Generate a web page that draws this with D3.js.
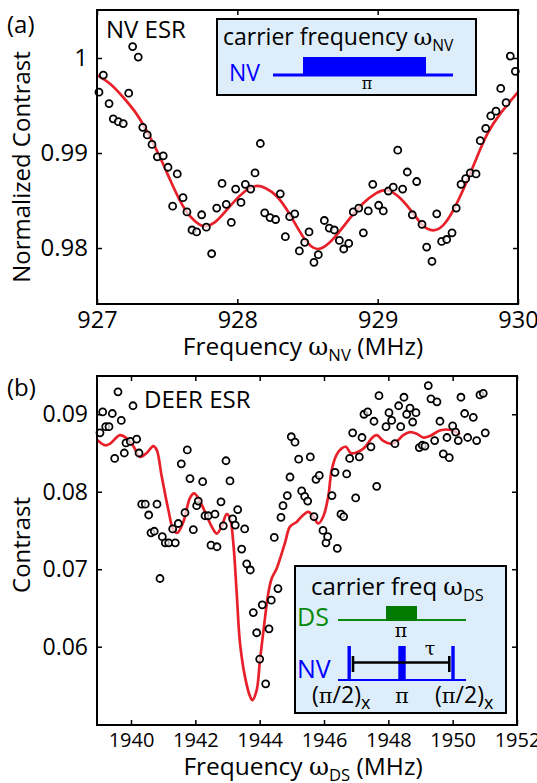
<!DOCTYPE html>
<html>
<head>
<meta charset="utf-8">
<script src="https://cdn.jsdelivr.net/npm/d3@7"></script>
<style>
  body { margin: 0; background: #fff; }
  text { font-family: "Open Sans", sans-serif; fill: #000; }
</style>
</head>
<body>
<div id="chart"></div>
<script>
// (a) NV ESR data
const nvFreq = [927.014, 927.045, 927.086, 927.116, 927.152, 927.187, 927.226, 927.254, 927.294, 927.326,
  927.358, 927.392, 927.430, 927.472, 927.506, 927.539, 927.572, 927.613, 927.641, 927.677,
  927.710, 927.746, 927.779, 927.817, 927.853, 927.891, 927.921, 927.957, 927.988, 928.026,
  928.057, 928.095, 928.126, 928.164, 928.195, 928.233, 928.273, 928.306, 928.342, 928.373,
  928.409, 928.442, 928.480, 928.511, 928.546, 928.577, 928.620, 928.655, 928.691, 928.727,
  928.758, 928.794, 928.826, 928.865, 928.898, 928.933, 928.965, 929.007, 929.040, 929.076,
  929.111, 929.143, 929.178, 929.211, 929.247, 929.278, 929.316, 929.349, 929.387, 929.421,
  929.456, 929.492, 929.530, 929.560, 929.594, 929.627, 929.660, 929.701, 929.731, 929.770,
  929.806, 929.843, 929.877, 929.915, 929.945, 929.981];
const nvContrast = [0.9964, 0.9982, 0.9952, 0.9936, 0.9933, 0.9931, 0.9963, 1.0012, 1.0001, 0.9927,
  0.9919, 0.9909, 0.9896, 0.9897, 0.9885, 0.9844, 0.9878, 0.9853, 0.9838, 0.9819,
  0.9817, 0.9835, 0.9822, 0.9794, 0.9842, 0.9868, 0.9846, 0.9827, 0.9862, 0.9848,
  0.9867, 0.9862, 0.9879, 0.9910, 0.9837, 0.9832, 0.9830, 0.9857, 0.9812, 0.9833,
  0.9836, 0.9797, 0.9806, 0.9817, 0.9785, 0.9793, 0.9829, 0.9821, 0.9819, 0.9808,
  0.9799, 0.9805, 0.9838, 0.9842, 0.9816, 0.9839, 0.9867, 0.9845, 0.9839, 0.9860,
  0.9864, 0.9903, 0.9862, 0.9880, 0.9835, 0.9870, 0.9825, 0.9801, 0.9786, 0.9836,
  0.9807, 0.9809, 0.9816, 0.9842, 0.9867, 0.9873, 0.9879, 0.9878, 0.9913, 0.9926,
  0.9939, 0.9944, 0.9968, 0.9953, 1.0002, 0.9986];

// (a) fit curve
const nvFitFreq = [927.000, 927.093, 927.185, 927.285, 927.378, 927.449, 927.520, 927.591, 927.663, 927.734,
  927.770, 927.841, 927.912, 928.019, 928.090, 928.140, 928.197, 928.283, 928.375, 928.468,
  928.568, 928.682, 928.803, 928.896, 928.995, 929.067, 929.159, 929.252, 929.323, 929.394,
  929.466, 929.537, 929.637, 929.708, 929.779, 929.872, 930.000];
const nvFitContrast = [0.9982, 0.9974, 0.9959, 0.9942, 0.9917, 0.9896, 0.9872, 0.9849, 0.9832, 0.9824,
  0.9822, 0.9826, 0.9838, 0.9856, 0.9864, 0.9866, 0.9864, 0.9856, 0.9836, 0.9810,
  0.9794, 0.9808, 0.9832, 0.9848, 0.9859, 0.9863, 0.9854, 0.9837, 0.9822, 0.9817,
  0.9822, 0.9838, 0.9870, 0.9896, 0.9921, 0.9942, 0.9964];

// (b) DEER ESR data
const deerFreq = [1939.036, 1939.120, 1939.214, 1939.316, 1939.419, 1939.493, 1939.596, 1939.698, 1939.792, 1939.845,
  1939.978, 1940.062, 1940.177, 1940.249, 1940.333, 1940.445, 1940.550, 1940.622, 1940.724, 1940.808,
  1940.901, 1940.973, 1941.066, 1941.172, 1941.296, 1941.377, 1941.470, 1941.564, 1941.679, 1941.750,
  1941.834, 1941.937, 1942.042, 1942.092, 1942.229, 1942.300, 1942.403, 1942.487, 1942.611, 1942.673,
  1942.798, 1942.869, 1942.953, 1943.077, 1943.161, 1943.242, 1943.317, 1943.441, 1943.534, 1943.597,
  1943.708, 1943.802, 1943.907, 1944.001, 1944.081, 1944.187, 1944.290, 1944.361, 1944.454, 1944.569,
  1944.663, 1944.725, 1944.859, 1944.943, 1944.983, 1945.098, 1945.213, 1945.306, 1945.400, 1945.493,
  1945.574, 1945.689, 1945.751, 1945.853, 1945.968, 1946.062, 1946.114, 1946.248, 1946.341, 1946.413,
  1946.528, 1946.612, 1946.705, 1946.798, 1946.891, 1946.985, 1947.097, 1947.181, 1947.243, 1947.358,
  1947.460, 1947.554, 1947.638, 1947.709, 1947.927, 1948.020, 1948.104, 1948.206, 1948.321, 1948.384,
  1948.486, 1948.570, 1948.673, 1948.757, 1948.859, 1948.962, 1949.055, 1949.139, 1949.242, 1949.325,
  1949.440, 1949.512, 1949.605, 1949.708, 1949.823, 1949.894, 1950.000, 1950.093, 1950.174, 1950.258,
  1950.373, 1950.467, 1950.641, 1950.746, 1950.849, 1950.951, 1951.013];
const deerContrast = [0.0876, 0.0903, 0.0884, 0.0884, 0.0901, 0.0843, 0.0929, 0.0892, 0.0850, 0.0863,
  0.0865, 0.0911, 0.0868, 0.0850, 0.0784, 0.0784, 0.0770, 0.0747, 0.0749, 0.0784,
  0.0688, 0.0742, 0.0734, 0.0734, 0.0752, 0.0734, 0.0759, 0.0836, 0.0773, 0.0854,
  0.0817, 0.0751, 0.0782, 0.0788, 0.0813, 0.0769, 0.0769, 0.0731, 0.0771, 0.0729,
  0.0787, 0.0756, 0.0840, 0.0814, 0.0765, 0.0757, 0.0777, 0.0726, 0.0752, 0.0707,
  0.0699, 0.0644, 0.0618, 0.0584, 0.0654, 0.0552, 0.0623, 0.0660, 0.0741, 0.0675,
  0.0767, 0.0782, 0.0795, 0.0819, 0.0871, 0.0864, 0.0842, 0.0801, 0.0794, 0.0788,
  0.0845, 0.0768, 0.0816, 0.0821, 0.0750, 0.0734, 0.0742, 0.0795, 0.0825, 0.0727,
  0.0771, 0.0768, 0.0823, 0.0843, 0.0876, 0.0792, 0.0845, 0.0870, 0.0900, 0.0903,
  0.0858, 0.0891, 0.0807, 0.0924, 0.0884, 0.0902, 0.0892, 0.0862, 0.0911, 0.0884,
  0.0922, 0.0900, 0.0908, 0.0890, 0.0902, 0.0857, 0.0860, 0.0859, 0.0937, 0.0920,
  0.0866, 0.0916, 0.0891, 0.0849, 0.0870, 0.0844, 0.0885, 0.0877, 0.0866, 0.0922,
  0.0901, 0.0870, 0.0896, 0.0866, 0.0925, 0.0927, 0.0876];

// (b) fit curve
const deerFitFreq = [1938.943, 1939.192, 1939.347, 1939.658, 1939.866, 1940.071, 1940.280, 1940.488, 1940.693, 1940.799,
  1940.954, 1941.159, 1941.315, 1941.439, 1941.626, 1941.834, 1941.958, 1942.092, 1942.300, 1942.509,
  1942.664, 1942.819, 1942.975, 1943.077, 1943.180, 1943.286, 1943.388, 1943.544, 1943.699, 1943.771,
  1943.907, 1944.010, 1944.134, 1944.268, 1944.374, 1944.529, 1944.787, 1944.943, 1945.151, 1945.306,
  1945.511, 1945.667, 1945.822, 1945.978, 1946.133, 1946.239, 1946.394, 1946.550, 1946.683, 1946.829,
  1946.963, 1947.171, 1947.327, 1947.482, 1947.638, 1947.833, 1948.082, 1948.259, 1948.464, 1948.673,
  1948.881, 1949.086, 1949.294, 1949.605, 1949.916, 1950.227];
const deerFitContrast = [0.0867, 0.0860, 0.0862, 0.0873, 0.0869, 0.0859, 0.0845, 0.0850, 0.0859, 0.0854,
  0.0820, 0.0777, 0.0751, 0.0747, 0.0761, 0.0792, 0.0798, 0.0792, 0.0774, 0.0755,
  0.0746, 0.0755, 0.0771, 0.0766, 0.0734, 0.0669, 0.0605, 0.0561, 0.0536, 0.0531,
  0.0544, 0.0583, 0.0626, 0.0669, 0.0688, 0.0701, 0.0734, 0.0755, 0.0761, 0.0768,
  0.0774, 0.0768, 0.0759, 0.0768, 0.0794, 0.0828, 0.0848, 0.0856, 0.0858, 0.0850,
  0.0850, 0.0854, 0.0860, 0.0869, 0.0873, 0.0866, 0.0862, 0.0865, 0.0873, 0.0877,
  0.0875, 0.0870, 0.0872, 0.0879, 0.0880, 0.0874];

// tick values
const nvFreqTicks = [927, 928, 929, 930];
const nvContrastTicks = [0.98, 0.99, 1];
const deerFreqTicks = [1940, 1942, 1944, 1946, 1948, 1950, 1952];
const deerContrastTicks = [0.06, 0.07, 0.08, 0.09];

const width = 537, height = 783;
const red = "#e8202a", blue = "#0000ff", green = "#0a8a0a", boxFill = "#ddeefa";
const greek = '"DejaVu Serif", serif';

const svg = d3.select("#chart").append("svg")
  .attr("width", width)
  .attr("height", height)
  .style("display", "block");

// scales
const xA = d3.scaleLinear().domain([927, 930]).range([97, 518]);
const yA = d3.scaleLinear().domain([0.97411, 1.00505]).range([304, 10]);
const xB = d3.scaleLinear().domain([1938.943, 1952]).range([97, 517]);
const yB = d3.scaleLinear().domain([0.04989, 0.09494]).range([725, 376]);

// frame + mirrored inward ticks + labels
function drawAxes(x, y, xTicks, yTicks, yFmt, xFont, yFont, xPad) {
  const [x0, x1] = x.range();
  const [y1, y0] = y.range();

  const bottom = svg.append("g").attr("transform", `translate(0,${y1})`)
    .call(d3.axisBottom(x).tickValues(xTicks).tickSize(-5).tickPadding(xPad).tickFormat(d3.format("d")));
  bottom.selectAll("text").style("font-size", xFont + "px");

  const left = svg.append("g").attr("transform", `translate(${x0},0)`)
    .call(d3.axisLeft(y).tickValues(yTicks).tickSize(-5).tickPadding(9).tickFormat(yFmt));
  left.selectAll("text").style("font-size", yFont + "px");

  svg.append("g").attr("transform", `translate(0,${y0})`)
    .call(d3.axisTop(x).tickValues(xTicks).tickSize(-5).tickFormat(""));
  svg.append("g").attr("transform", `translate(${x1},0)`)
    .call(d3.axisRight(y).tickValues(yTicks).tickSize(-5).tickFormat(""));

  svg.selectAll(".domain").remove();
  svg.selectAll(".tick line").attr("stroke", "#000").attr("stroke-width", 1.5);
  svg.selectAll(".tick text").attr("fill", "#000").style("font-family", '"Open Sans", sans-serif');

  svg.append("rect")
    .attr("x", x0).attr("y", y0)
    .attr("width", x1 - x0).attr("height", y1 - y0)
    .attr("fill", "none").attr("stroke", "#000").attr("stroke-width", 2);
}

function drawSeries(x, y, fx, fy, px, py, curve) {
  const fit = fx.map((d, i) => [d, fy[i]]);
  svg.append("path")
    .datum(fit)
    .attr("fill", "none")
    .attr("stroke", red)
    .attr("stroke-width", 2.7)
    .attr("d", d3.line().x(d => x(d[0])).y(d => y(d[1])).curve(curve));

  svg.append("g").selectAll("circle")
    .data(px.map((d, i) => [d, py[i]]))
    .enter()
    .append("circle")
    .attr("cx", d => x(d[0]))
    .attr("cy", d => y(d[1]))
    .attr("r", 3.5)
    .attr("fill", "#fff")
    .attr("fill-opacity", 0.7)
    .attr("stroke", "#000")
    .attr("stroke-width", 1.8);
}

// label with omega + subscript
function omegaLabel(g, x, y, size, before, sub, after, anchor) {
  const t = g.append("text").attr("x", x).attr("y", y)
    .attr("text-anchor", anchor || "start").style("font-size", size + "px");
  t.append("tspan").text(before);
  t.append("tspan").style("font-family", greek).style("font-size", size + "px").text("ω");
  t.append("tspan").attr("dy", size * 0.24).style("font-size", (size * 0.68) + "px").text(sub);
  if (after) t.append("tspan").attr("dy", -size * 0.24).text(after);
  return t;
}

// ---------- panel (a)
drawSeries(xA, yA, nvFitFreq, nvFitContrast, nvFreq, nvContrast, d3.curveBasis);
drawAxes(xA, yA, nvFreqTicks, nvContrastTicks, d => String(+d.toFixed(2)), 23.5, 24, 7);

svg.append("text").attr("x", 7).attr("y", 33).style("font-size", "24px").text("(a)");
svg.append("text").attr("x", 106).attr("y", 38).style("font-size", "24px").text("NV ESR");
svg.append("text")
  .attr("transform", "translate(30,167) rotate(-90)")
  .attr("text-anchor", "middle")
  .style("font-size", "24px")
  .text("Normalized Contrast");
omegaLabel(svg, 303, 355, 24.5, "Frequency ", "NV", " (MHz)", "middle");

// inset (a): NV pulse
const insA = svg.append("g");
insA.append("rect").attr("x", 217).attr("y", 19).attr("width", 259).attr("height", 76)
  .attr("fill", boxFill).attr("stroke", "#000").attr("stroke-width", 2);
omegaLabel(insA, 223, 45, 23, "carrier frequency ", "NV");
insA.append("text").attr("x", 229).attr("y", 81).style("font-size", "23px").style("fill", blue).text("NV");
insA.append("line").attr("x1", 273).attr("x2", 453).attr("y1", 75).attr("y2", 75)
  .attr("stroke", blue).attr("stroke-width", 3.2);
insA.append("rect").attr("x", 303).attr("y", 57).attr("width", 123).attr("height", 19).attr("fill", blue);
insA.append("text").attr("x", 367).attr("y", 89).attr("text-anchor", "middle")
  .style("font-family", greek).style("font-size", "16px").text("π");

// ---------- panel (b)
drawSeries(xB, yB, deerFitFreq, deerFitContrast, deerFreq, deerContrast, d3.curveCatmullRom.alpha(0.5));
drawAxes(xB, yB, deerFreqTicks, deerContrastTicks, d3.format(".2f"), 20, 23, 8);

svg.append("text").attr("x", 7).attr("y", 396).style("font-size", "24px").text("(b)");
svg.append("text").attr("x", 144).attr("y", 408).style("font-size", "24px").text("DEER ESR");
svg.append("text")
  .attr("transform", "translate(30,545) rotate(-90)")
  .attr("text-anchor", "middle")
  .style("font-size", "24px")
  .text("Contrast");
omegaLabel(svg, 303, 775, 24.5, "Frequency ", "DS", " (MHz)", "middle");

// inset (b): DEER pulse sequence
const insB = svg.append("g");
insB.append("rect").attr("x", 295).attr("y", 566).attr("width", 211).attr("height", 147)
  .attr("fill", boxFill).attr("stroke", "#000").attr("stroke-width", 2);
omegaLabel(insB, 311, 595, 24, "carrier freq ", "DS");

insB.append("text").attr("x", 297).attr("y", 626).style("font-size", "25px").style("fill", green).text("DS");
insB.append("line").attr("x1", 338).attr("x2", 466).attr("y1", 620).attr("y2", 620)
  .attr("stroke", green).attr("stroke-width", 2);
insB.append("rect").attr("x", 386).attr("y", 606).attr("width", 31).attr("height", 15).attr("fill", "#007a00");
insB.append("text").attr("x", 401).attr("y", 637).attr("text-anchor", "middle")
  .style("font-family", greek).style("font-size", "19px").text("π");

insB.append("text").attr("x", 297).attr("y", 678).style("font-size", "25px").style("fill", blue).text("NV");
insB.append("line").attr("x1", 338).attr("x2", 466).attr("y1", 680).attr("y2", 680)
  .attr("stroke", blue).attr("stroke-width", 2);
insB.append("rect").attr("x", 347.5).attr("y", 646).attr("width", 3.4).attr("height", 35).attr("fill", blue);
insB.append("rect").attr("x", 398.3).attr("y", 646).attr("width", 7.4).attr("height", 35).attr("fill", blue);
insB.append("rect").attr("x", 451.3).attr("y", 646).attr("width", 3.4).attr("height", 35).attr("fill", blue);

// tau bracket
insB.append("line").attr("x1", 352).attr("x2", 450).attr("y1", 662.5).attr("y2", 662.5)
  .attr("stroke", "#000").attr("stroke-width", 2.4);
insB.append("line").attr("x1", 353).attr("x2", 353).attr("y1", 656).attr("y2", 672)
  .attr("stroke", "#000").attr("stroke-width", 2.6);
insB.append("line").attr("x1", 449.3).attr("x2", 449.3).attr("y1", 656).attr("y2", 672)
  .attr("stroke", "#000").attr("stroke-width", 2.6);
insB.append("text").attr("x", 430).attr("y", 655).attr("text-anchor", "middle")
  .style("font-family", greek).style("font-size", "19px").text("τ");

// pulse labels
function halfPi(x) {
  const t = insB.append("text").attr("x", x).attr("y", 703).style("font-size", "23px");
  t.append("tspan").text("(");
  t.append("tspan").style("font-family", greek).style("font-size", "21px").text("π");
  t.append("tspan").text("/2)");
  t.append("tspan").attr("dy", 6).style("font-size", "18px").text("x");
}
halfPi(312);
halfPi(435);
insB.append("text").attr("x", 402).attr("y", 703).attr("text-anchor", "middle")
  .style("font-family", greek).style("font-size", "21px").text("π");
</script>
</body>
</html>
